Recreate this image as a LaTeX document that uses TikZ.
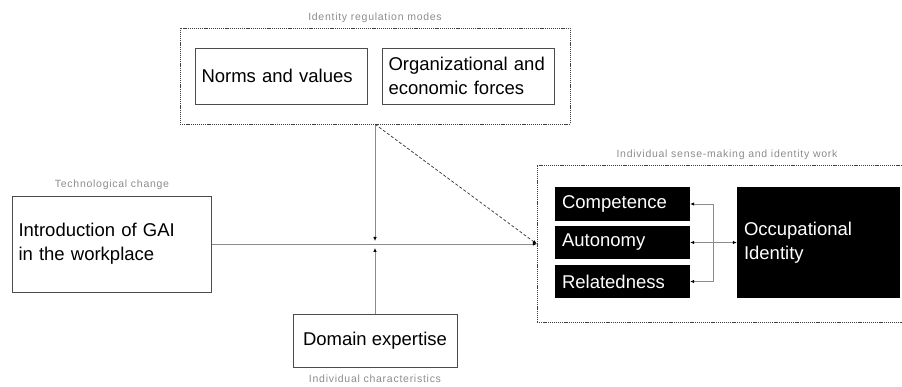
\documentclass[tikz,border=0pt]{standalone}
\usepackage{fontspec}
\setmainfont{Liberation Sans}
\newfontfamily\spacedfont[LetterSpace=7]{Liberation Sans}
\usetikzlibrary{arrows.meta}

\tikzset{
 box/.style={draw=black!70,fill=white,inner sep=6pt,font=\fontsize{18.5}{24}\selectfont,align=left},
 blackbox/.style={fill=black,text=white,inner sep=7pt,font=\fontsize{18.5}{24}\selectfont,align=left},
 group/.style={draw=black!75,dash pattern=on 1.2pt off 0.9pt},
 grouplabel/.style={text=black!45,inner sep=0pt,font=\spacedfont\fontsize{10.5}{13}\selectfont},
 link/.style={draw=black!45,line width=0.7pt},
}

\begin{document}
\begin{tikzpicture}[x=1pt,y=-1pt,>={Latex[length=4pt,width=3.5pt,color=black]}]
 \useasboundingbox (0,0) rectangle (902,387);

 % regulation modes
 \node[group,minimum width=390pt,minimum height=96pt] (modes) at (375,76) {};
 \node[grouplabel,anchor=south] at ([yshift=5pt]modes.north) {Identity regulation modes};
 \node[box,text width=160pt,minimum height=56pt] (norms) at (281.5,76) {Norms and values};
 \node[box,text width=160pt,minimum height=56pt] (forces) at (468.5,76) {Organizational and\\economic forces};

 % technology and expertise
 \node[box,text width=187pt,minimum height=96pt] (gai) at (112,244) {Introduction of GAI\\in the workplace};
 \node[grouplabel,anchor=south] at ([yshift=6pt]gai.north) {Technological change};
 \node[box,align=center,minimum width=164pt,minimum height=53pt] (domain) at (375,340.5) {Domain expertise};
 \node[grouplabel,anchor=north] at ([yshift=-7pt]domain.south) {Individual characteristics};

 % sense-making
 \node[group,minimum width=380pt,minimum height=157pt] (sense) at (727,243.5) {};
 \node[grouplabel,anchor=south] at ([yshift=5pt]sense.north) {Individual sense-making and identity work};
 \node[blackbox,text width=121pt,minimum height=34pt] (comp) at (622.5,204) {Competence};
 \node[blackbox,text width=121pt,minimum height=33pt] (auto) at (622.5,242.5) {Autonomy};
 \node[blackbox,text width=121pt,minimum height=33pt] (rel) at (622.5,281.5) {Relatedness};
 \node[blackbox,text width=149pt,minimum height=111pt] (occ) at (818.5,242.5) {Occupational\\Identity};

 \coordinate (hit) at (375,244);
 \coordinate (entry) at (gai.east -| sense.west);
 \coordinate (branch) at (713,243);

 \draw[link,->] (gai.east) -- (entry);
 \draw[link,->,shorten >=3pt] (modes.south) -- (hit);
 \draw[link,->,shorten >=4pt] (domain.north) -- (hit);
 \draw[link,->,dash pattern=on 3pt off 2pt,draw=black!80] (modes.south) -- (entry);

 \draw[link,<->] (comp.east) -- (comp.east -| branch) -- (rel.east -| branch) -- (rel.east);
 \draw[link,<->] (auto.east) -- (occ.west);
\end{tikzpicture}
\end{document}
